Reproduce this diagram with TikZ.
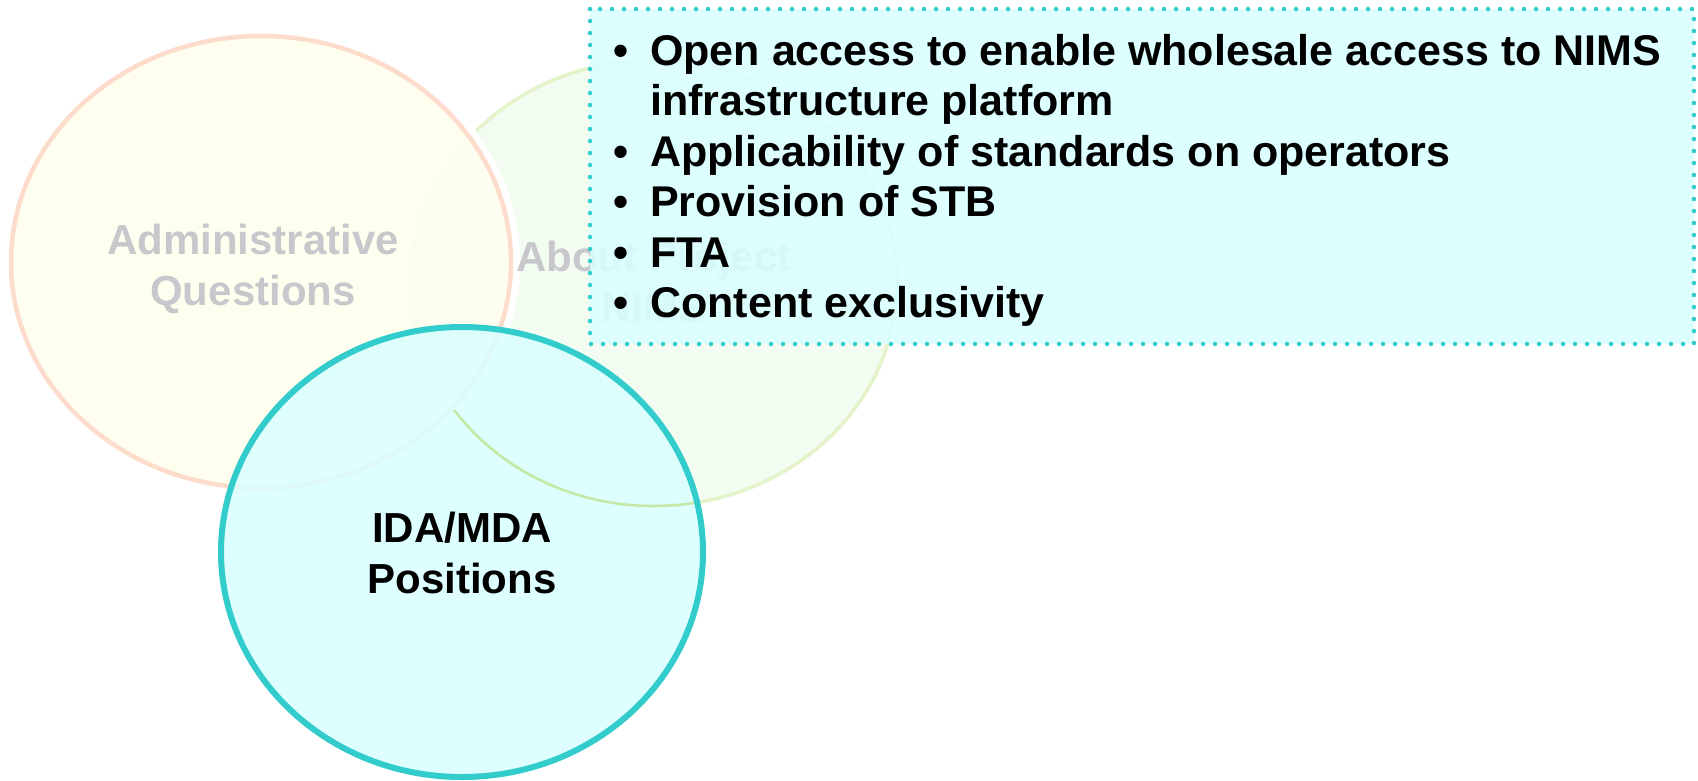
\documentclass[tikz,border=0pt]{standalone}
\usepackage{fontspec}
\setmainfont{Liberation Sans}
\definecolor{adminfill}{HTML}{FFFFEF}
\definecolor{adminline}{HTML}{FDDCCB}
\definecolor{nimsfill}{HTML}{F3FCF1}
\definecolor{nimsline}{HTML}{E4F3C9}
\definecolor{nimsdark}{HTML}{C4E9A6}
\definecolor{tealfill}{HTML}{D9FFFF}
\definecolor{tealline}{HTML}{33CCCC}
\definecolor{fadetext}{HTML}{C8C8CC}
\tikzset{
  bigtext/.style={font=\fontsize{42}{50}\selectfont\bfseries, inner sep=0pt},
  listtext/.style={font=\fontsize{43}{51}\selectfont\bfseries, inner sep=0pt},
  fadelabel/.style={bigtext, text=fadetext, anchor=base},
  darklabel/.style={bigtext, text=black, anchor=base},
  bulletdot/.style={listtext, anchor=base},
  bullettext/.style={listtext, anchor=base west},
}
\begin{document}
\begin{tikzpicture}[x=1pt,y=-1pt]
\useasboundingbox (0,0) rectangle (1698,780);
\fill[white] (0,0) rectangle (1698,780);
\coordinate (cadmin) at (261,262);
\coordinate (cnims) at (654,283);
\coordinate (cida) at (462,552);
% About Project NIMS ellipse
\fill[nimsfill] (cnims) ellipse [x radius=243, y radius=223];
\draw[nimsline, line width=3.5pt] (cnims) ellipse [x radius=243, y radius=223];
% Administrative ellipse with white glow
\draw[white, line width=14pt] (cadmin) ellipse [x radius=252, y radius=227];
\fill[adminfill, fill opacity=0.9] (cadmin) ellipse [x radius=250, y radius=226];
\draw[adminline, line width=4.5pt] (cadmin) ellipse [x radius=250, y radius=226];
\node[fadelabel] (admin1) at (253,254) {Administrative};
\node[fadelabel] (admin2) at (253,305) {Questions};
\node[fadelabel] (nims1) at (654,271) {About Project};
\node[fadelabel] (nims2) at (654,322) {NIMS};
% IDA/MDA circle
\fill[tealfill, fill opacity=0.85] (cida) ellipse [x radius=241, y radius=225];
\begin{scope}
  \clip (cida) ellipse [x radius=241, y radius=225];
  \clip (0,410) rectangle (800,780);
  \draw[nimsdark, line width=2.5pt] (cnims) ellipse [x radius=243, y radius=223];
\end{scope}
\draw[tealline, line width=6pt] (cida) ellipse [x radius=241, y radius=225];
\node[darklabel] (ida1) at (462,542) {IDA/MDA};
\node[darklabel] (ida2) at (462,593) {Positions};
% bullet box
\fill[tealfill, fill opacity=0.88] (590,9) rectangle (1694,344);
\draw[tealline, line width=4.5pt, line cap=round, dash pattern=on 0pt off 12pt] (590,9) rectangle (1694,344);
\node[bulletdot] (b1) at (621,65) {•};
\node[bullettext] (t1) at (650,65) {Open access to enable wholesale access to NIMS};
\node[bullettext] (t1b) at (650,115.5) {infrastructure platform};
\node[bulletdot] (b2) at (621,166) {•};
\node[bullettext] (t2) at (650,166) {Applicability of standards on operators};
\node[bulletdot] (b3) at (621,216.5) {•};
\node[bullettext] (t3) at (650,216.5) {Provision of STB};
\node[bulletdot] (b4) at (621,267) {•};
\node[bullettext] (t4) at (650,267) {FTA};
\node[bulletdot] (b5) at (621,317.5) {•};
\node[bullettext] (t5) at (650,317.5) {Content exclusivity};
\end{tikzpicture}
\end{document}
